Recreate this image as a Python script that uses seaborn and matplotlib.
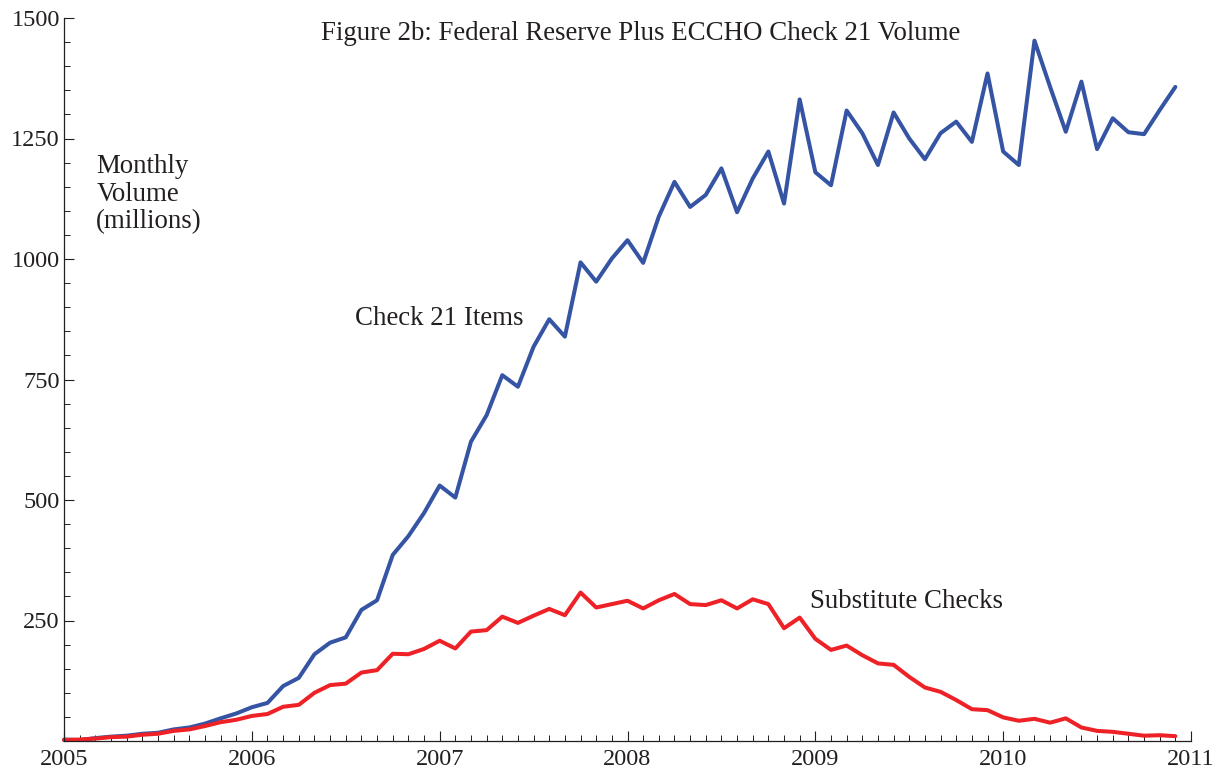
import numpy as np
import pandas as pd
import matplotlib
matplotlib.use("Agg")
import matplotlib.pyplot as plt
from matplotlib.ticker import MultipleLocator
import seaborn as sns

# ---- data (millions of items, monthly Jan 2005 .. Dec 2010) ----
start_year = 2005
n_months = 72
check21_items = [
    3, 2, 6, 9, 11, 15, 17, 24, 28, 36, 47, 57,
    70, 79, 114, 131, 180, 204, 215, 272, 292, 386, 425, 473,
    530, 505, 621, 676, 759, 735, 818, 875, 839, 993, 953, 1001,
    1039, 992, 1088, 1160, 1108, 1133, 1188, 1097, 1167, 1223, 1115, 1331,
    1180, 1153, 1308, 1261, 1195, 1304, 1250, 1207, 1261, 1285, 1243, 1385,
    1223, 1195, 1453, 1357, 1264, 1368, 1228, 1292, 1263, 1259, 1309, 1357,
]
substitute_checks = [
    2, 3, 5, 8, 9, 13, 15, 21, 24, 31, 39, 44,
    52, 56, 71, 75, 100, 116, 119, 142, 147, 181, 180, 191,
    208, 192, 227, 230, 258, 245, 260, 274, 261, 308, 277, 284,
    291, 275, 292, 305, 284, 282, 292, 275, 294, 284, 234, 256,
    212, 189, 198, 178, 161, 158, 133, 111, 102, 85, 66, 64,
    49, 42, 46, 38, 47, 28, 21, 19, 15, 11, 12, 10,
]
series_names = ["Check 21 Items", "Substitute Checks"]
x_ticks = [2005, 2006, 2007, 2008, 2009, 2010, 2011]
y_ticks = [250, 500, 750, 1000, 1250, 1500]
title_text = "Figure 2b: Federal Reserve Plus ECCHO Check 21 Volume"
ylabel_lines = ["Monthly", "Volume", "(millions)"]

dates = pd.date_range(f"{start_year}-01-01", periods=n_months, freq="MS")
dec_year = dates.year + (dates.month - 1) / 12.0

df = pd.concat([
    pd.DataFrame({"year": dec_year, "volume": check21_items, "series": series_names[0]}),
    pd.DataFrame({"year": dec_year, "volume": substitute_checks, "series": series_names[1]}),
], ignore_index=True)

# ---- style ----
sns.set_style("ticks")
plt.rcParams["font.family"] = ["Liberation Serif", "DejaVu Serif"]
text_color = "#231F20"

fig = plt.figure(figsize=(12.22, 7.76), dpi=100)
ax = fig.add_axes([64 / 1222, 1 - 741 / 776, (1191 - 64) / 1222, (741 - 18) / 776])

palette = {series_names[0]: "#3654A4", series_names[1]: "#EE2127"}
sns.lineplot(data=df, x="year", y="volume", hue="series", palette=palette,
             linewidth=2.9, legend=False, ax=ax, clip_on=False)

ax.set_xlim(2005, 2011)
ax.set_ylim(0, 1500)
ax.set_xticks(x_ticks)
ax.set_xticklabels([str(t) for t in x_ticks])
ax.set_yticks(y_ticks)
ax.set_yticklabels([str(t) for t in y_ticks])
ax.xaxis.set_minor_locator(MultipleLocator(1 / 12))
ax.yaxis.set_minor_locator(MultipleLocator(50))
ax.set_xlabel("")
ax.set_ylabel("")

for s in ["top", "right"]:
    ax.spines[s].set_visible(False)
for s in ["left", "bottom"]:
    ax.spines[s].set_color(text_color)
    ax.spines[s].set_linewidth(0.9)

ax.tick_params(axis="both", which="major", direction="in", length=7, width=0.8,
               color=text_color, labelcolor=text_color, labelsize=17.5)
ax.tick_params(axis="both", which="minor", direction="in", length=4, width=0.7,
               color=text_color)
ax.tick_params(axis="x", which="major", pad=6)
ax.tick_params(axis="y", which="major", pad=3)

# ---- text ----
ax.text(0.5115, 0.9696, title_text, transform=ax.transAxes, ha="center",
        va="baseline", fontsize=19.4, color=text_color)
for line, yv in zip(ylabel_lines, [1178, 1120, 1064]):
    ax.text(2005.172, yv, line, ha="left", va="baseline", fontsize=19.4, color=text_color)
ax.text(2006.55, 863, series_names[0], ha="left", va="baseline", fontsize=19.4, color=text_color)
ax.text(2008.972, 276, series_names[1], ha="left", va="baseline", fontsize=19.4, color=text_color)

fig.savefig("out.png", dpi=100)
